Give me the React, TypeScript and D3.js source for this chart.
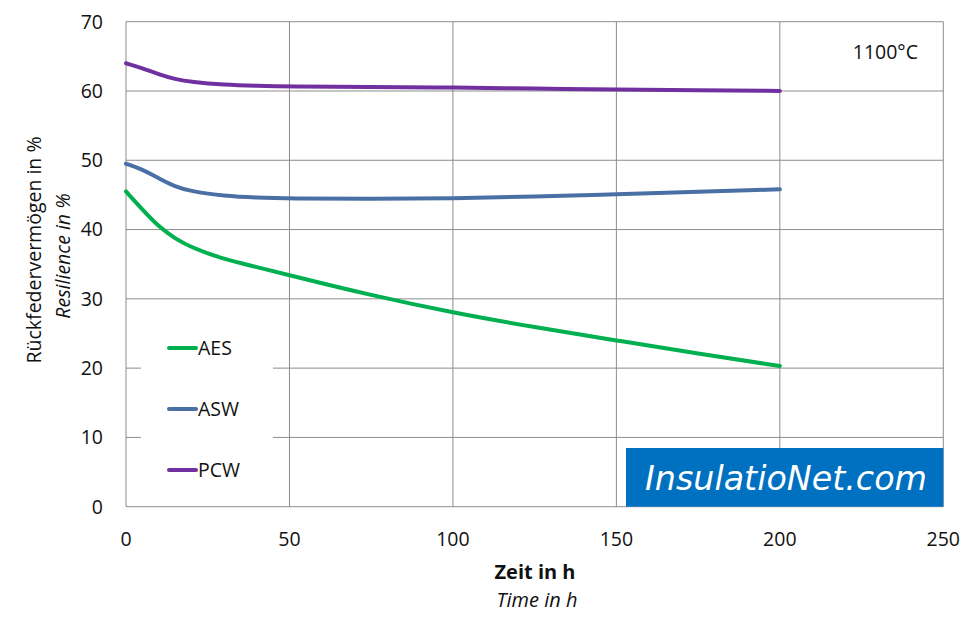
import React from "react";
import * as d3 from "d3";

const hours = [0, 5, 10, 15, 20, 30, 40, 50, 75, 100, 125, 150, 175, 200];
const aes = [45.5, 42.9, 40.4, 38.7, 37.4, 35.7, 34.6, 33.4, 30.5, 28.0, 25.9, 24.0, 22.1, 20.3];
const asw = [49.5, 48.7, 47.4, 46.2, 45.5, 44.85, 44.6, 44.5, 44.4, 44.5, 44.75, 45.1, 45.45, 45.8];
const pcw = [64.0, 63.3, 62.4, 61.7, 61.3, 60.9, 60.75, 60.65, 60.6, 60.5, 60.35, 60.2, 60.1, 60.0];
const seriesNames = ["AES", "ASW", "PCW"];
const seriesColors = ["#00B050", "#4A6FA5", "#7030A0"];
const xTicks = [0, 50, 100, 150, 200, 250];
const yTicks = [0, 10, 20, 30, 40, 50, 60, 70];

const W = 977, H = 631;
const M = { left: 126, right: 943.3, top: 21.7, bottom: 506.7 };
const FONT = "'Open Sans', sans-serif";

export default function App() {
  const x = d3.scaleLinear().domain([0, 250]).range([M.left, M.right]);
  const y = d3.scaleLinear().domain([0, 70]).range([M.bottom, M.top]);
  const allSeries = [aes, asw, pcw];
  const line = d3
    .line<number>()
    .x((_, i) => x(hours[i]))
    .y((d) => y(d))
    .curve(d3.curveBasis);

  return (
    <svg width={W} height={H} style={{ position: "absolute", left: 0, top: 0 }} fontFamily={FONT}>
      <rect width={W} height={H} fill="#fff" />
      {xTicks.map((t) => (
        <line key={"gx" + t} x1={x(t)} x2={x(t)} y1={M.top} y2={M.bottom} stroke="#8c8c8c" strokeWidth={1} />
      ))}
      {yTicks.map((t) => (
        <line key={"gy" + t} x1={M.left} x2={M.right} y1={y(t)} y2={y(t)} stroke="#8c8c8c" strokeWidth={1} />
      ))}
      {/* legend box */}
      <rect x={141} y={322} width={132} height={183} fill="#fff" />
      {allSeries.map((s, k) => (
        <path key={"s" + k} d={line(s) || ""} fill="none" stroke={seriesColors[k]} strokeWidth={4} strokeLinecap="round" />
      ))}
      {yTicks.map((t) => (
        <text key={"ty" + t} x={103} y={y(t)} dy="0.35em" textAnchor="end" fontSize={19.5} fill="#111">{t}</text>
      ))}
      {xTicks.map((t) => (
        <text key={"tx" + t} x={x(t)} y={539} dy="0.35em" textAnchor="middle" fontSize={19.5} fill="#111">{t}</text>
      ))}
      {seriesNames.map((n, k) => (
        <g key={"l" + n}>
          <line x1={169} x2={196} y1={348 + k * 61} y2={348 + k * 61} stroke={seriesColors[k]} strokeWidth={4} strokeLinecap="round" />
          <text x={198} y={348 + k * 61} dy="0.35em" fontSize={19.5} fill="#111">{n}</text>
        </g>
      ))}
      <text x={918} y={52} dy="0.35em" textAnchor="end" fontSize={19.5} fill="#111">1100°C</text>
      <text x={535} y={572} dy="0.35em" textAnchor="middle" fontSize={20} fontWeight="bold" fill="#111">Zeit in h</text>
      <text x={537} y={600} dy="0.35em" textAnchor="middle" fontSize={20} fontStyle="italic" fill="#111">Time in h</text>
      <text transform={`translate(34,250) rotate(-90)`} dy="0.35em" textAnchor="middle" fontSize={19.5} fill="#111">Rückfedervermögen in %</text>
      <text transform={`translate(63,256) rotate(-90)`} dy="0.35em" textAnchor="middle" fontSize={19.5} fontStyle="italic" fill="#111">Resilience in %</text>
      <rect x={626} y={448} width={317.3} height={58.7} fill="#0070C0" />
      <text x={786} y={478} dy="0.35em" textAnchor="middle" fontSize={34} fontStyle="italic" fill="#fff" fontFamily="'DejaVu Sans', sans-serif" textLength={282} lengthAdjust="spacingAndGlyphs">InsulatioNet.com</text>
    </svg>
  );
}
